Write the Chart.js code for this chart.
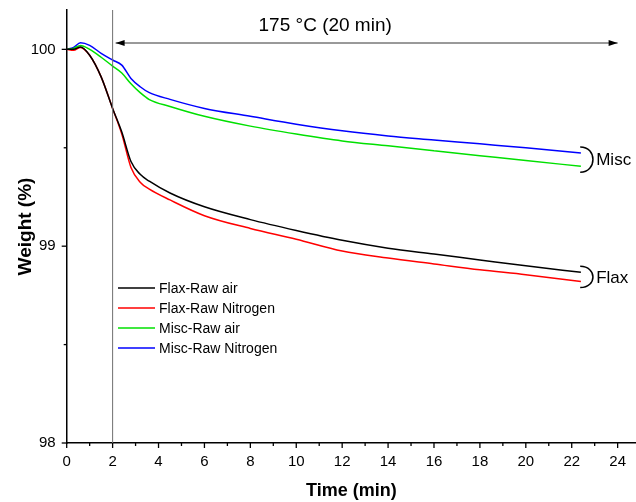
<!DOCTYPE html>
<html>
<head>
<meta charset="utf-8">
<script src="https://cdn.jsdelivr.net/npm/chart.js@4"></script>
<style>
  html, body { margin: 0; padding: 0; background: #fff; }
  #wrap { width: 636px; height: 502px; }
</style>
</head>
<body>
<div id="wrap"><canvas id="grafico" width="636" height="502"></canvas></div>
<script>
// dados
const tempo = [0, 0.3, 0.6, 1.0, 1.5, 2.0, 2.4, 2.8, 3.2, 3.6, 4.5, 6, 8, 10, 12, 14, 16, 18, 20, 22.4];
const flaxAr = [100, 100.0, 100.012, 99.97, 99.86, 99.70, 99.58, 99.43, 99.365, 99.33, 99.27, 99.20, 99.135, 99.08, 99.03, 98.99, 98.96, 98.93, 98.90, 98.867];
const flaxN2 = [100, 99.995, 100.01, 99.97, 99.86, 99.70, 99.57, 99.40, 99.325, 99.29, 99.235, 99.155, 99.09, 99.035, 98.975, 98.94, 98.91, 98.88, 98.855, 98.82];
const miscAr = [100, 100.005, 100.02, 100.0, 99.96, 99.915, 99.88, 99.825, 99.78, 99.745, 99.71, 99.66, 99.61, 99.57, 99.535, 99.51, 99.485, 99.46, 99.435, 99.406];
const miscN2 = [100, 100.01, 100.033, 100.02, 99.98, 99.946, 99.92, 99.852, 99.81, 99.78, 99.746, 99.70, 99.66, 99.62, 99.586, 99.56, 99.54, 99.52, 99.50, 99.474];

const nomes = ["Flax-Raw air", "Flax-Raw Nitrogen", "Misc-Raw air", "Misc-Raw Nitrogen"];
const cores = ["#000000", "#ff0000", "#00e000", "#0000ff"];
const series = [flaxAr, flaxN2, miscAr, miscN2];

const xTicks = [0, 2, 4, 6, 8, 10, 12, 14, 16, 18, 20, 22, 24];
const yTicks = [98, 99, 100];

const FONTE = "'Liberation Sans', Arial, sans-serif";

// ticks, linhas, seta, legenda e chaves
const extras = {
  id: "extras",
  afterDraw(chart) {
    const ctx = chart.ctx;
    const x = chart.scales.x, y = chart.scales.y;
    const area = chart.chartArea;
    ctx.save();

    // ticks do eixo x
    ctx.strokeStyle = "#000";
    ctx.lineWidth = 1.3;
    for (let v = 0; v <= 24; v++) {
      const px = x.getPixelForValue(v);
      const len = v % 2 === 0 ? 5 : 3;
      ctx.beginPath();
      ctx.moveTo(px, area.bottom);
      ctx.lineTo(px, area.bottom + len);
      ctx.stroke();
    }
    // ticks do eixo y
    for (let v = 98; v <= 100; v += 0.5) {
      const py = y.getPixelForValue(v);
      const len = Number.isInteger(v) ? 5 : 3;
      ctx.beginPath();
      ctx.moveTo(area.left, py);
      ctx.lineTo(area.left - len, py);
      ctx.stroke();
    }

    // linha vertical em t = 2
    const x2 = x.getPixelForValue(2);
    ctx.strokeStyle = "#707070";
    ctx.lineWidth = 1;
    ctx.beginPath();
    ctx.moveTo(x2, area.top);
    ctx.lineTo(x2, area.bottom);
    ctx.stroke();

    // seta dupla
    const ya = 43;
    const xa = x2 + 3, xb = x.getPixelForValue(24);
    ctx.strokeStyle = "#000";
    ctx.fillStyle = "#000";
    ctx.lineWidth = 0.8;
    ctx.beginPath();
    ctx.moveTo(xa, ya);
    ctx.lineTo(xb, ya);
    ctx.stroke();
    ctx.beginPath();
    ctx.moveTo(xa, ya);
    ctx.lineTo(xa + 9, ya - 3);
    ctx.lineTo(xa + 9, ya + 3);
    ctx.closePath();
    ctx.fill();
    ctx.beginPath();
    ctx.moveTo(xb, ya);
    ctx.lineTo(xb - 9, ya - 3);
    ctx.lineTo(xb - 9, ya + 3);
    ctx.closePath();
    ctx.fill();

    ctx.font = "19px " + FONTE;
    ctx.textAlign = "center";
    ctx.textBaseline = "middle";
    ctx.fillText("175 °C (20 min)", x.getPixelForValue(11.26), 26);

    // legenda
    ctx.font = "14px " + FONTE;
    ctx.textAlign = "left";
    chart.data.datasets.forEach((ds, i) => {
      const ly = 288 + i * 20;
      ctx.strokeStyle = ds.borderColor;
      ctx.lineWidth = 1.5;
      ctx.beginPath();
      ctx.moveTo(118, ly);
      ctx.lineTo(155, ly);
      ctx.stroke();
      ctx.fillStyle = "#000";
      ctx.fillText(ds.label, 159, ly + 1);
    });

    // chaves ")" com rótulos
    function chave(yTop, yBot, texto) {
      const t = y.getPixelForValue(yTop) - 6;
      const b = y.getPixelForValue(yBot) + 6;
      const x0 = x.getPixelForValue(22.5) - 3;
      const m = (t + b) / 2;
      ctx.strokeStyle = "#000";
      ctx.lineWidth = 1.5;
      ctx.beginPath();
      ctx.moveTo(x0, t);
      ctx.bezierCurveTo(x0 + 17, t, x0 + 17, b, x0, b);
      ctx.stroke();
      ctx.fillStyle = "#000";
      ctx.font = "17px " + FONTE;
      ctx.textAlign = "left";
      ctx.fillText(texto, x0 + 16, m + 1);
    }
    chave(miscN2[miscN2.length - 1], miscAr[miscAr.length - 1], "Misc");
    chave(flaxAr[flaxAr.length - 1], flaxN2[flaxN2.length - 1], "Flax");

    ctx.restore();
  }
};

new Chart(document.getElementById("grafico"), {
  type: "line",
  data: {
    labels: tempo,
    datasets: series.map((s, i) => ({
      label: nomes[i],
      data: tempo.map((t, j) => ({ x: t, y: s[j] })),
      borderColor: cores[i],
      borderWidth: 1.5,
      pointRadius: 0,
      fill: false,
      cubicInterpolationMode: "monotone"
    }))
  },
  options: {
    responsive: false,
    animation: false,
    layout: { padding: { top: 10, right: 0, left: 0, bottom: 0 } },
    plugins: { legend: { display: false }, tooltip: { enabled: false } },
    scales: {
      x: {
        type: "linear",
        min: 0,
        max: 24.8,
        afterFit: (s) => { s.height = 59; s.paddingLeft = 0; s.paddingRight = 0; },
        afterBuildTicks: (s) => { s.ticks = xTicks.map(v => ({ value: v })); },
        grid: { display: false, drawTicks: false },
        border: { display: true, color: "#000", width: 1.5 },
        ticks: { color: "#000", font: { family: FONTE, size: 15 }, padding: 10, maxRotation: 0 },
        title: { display: true, text: "Time (min)", color: "#000", font: { family: FONTE, size: 18, weight: "bold" }, padding: { top: 4, bottom: 0 } }
      },
      y: {
        type: "linear",
        min: 98,
        max: 100.2,
        afterFit: (s) => { s.width = 66.7; s.paddingTop = 0; s.paddingBottom = 0; },
        afterBuildTicks: (s) => { s.ticks = yTicks.map(v => ({ value: v })); },
        grid: { display: false, drawTicks: false },
        border: { display: true, color: "#000", width: 1.5 },
        ticks: { color: "#000", font: { family: FONTE, size: 15 }, padding: 11 },
        title: { display: true, text: "Weight (%)", color: "#000", font: { family: FONTE, size: 19, weight: "bold" }, padding: { top: 14, bottom: 0 } }
      }
    }
  },
  plugins: [extras]
});
</script>
</body>
</html>
